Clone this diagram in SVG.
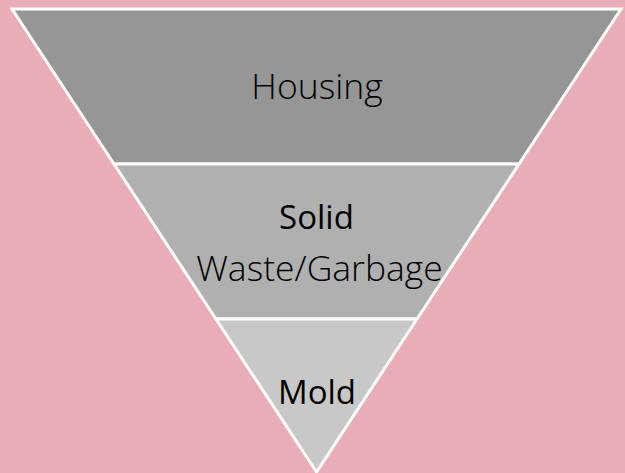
<svg xmlns="http://www.w3.org/2000/svg" width="625" height="473" viewBox="0 0 625 473">
<style>
.band{stroke:#ffffff;stroke-width:3;stroke-linejoin:miter}
.t{font-family:"Open Sans","Liberation Sans",sans-serif;fill:#000000;text-anchor:middle}
.l{font-weight:300;font-size:35.5px}
.r{font-weight:400;font-size:33px}
</style>
<rect width="625" height="473" fill="#e9aeb5"/>
<g id="housing">
<polygon class="band" fill="#969696" points="12,9 621,9 519,164 114,164"/>
<text class="t l" x="317" y="99">Housing</text>
</g>
<g id="solid-waste">
<polygon class="band" fill="#b0b0b0" points="114,164 519,164 417,319 216,319"/>
<text class="t r" x="316.5" y="229">Solid</text>
<text class="t l" x="319.5" y="281">Waste/Garbage</text>
</g>
<g id="mold">
<polygon class="band" fill="#c8c8c8" points="216,319 417,319 316.5,472"/>
<text class="t r" x="317" y="404">Mold</text>
</g>
<g id="connectors"></g>
</svg>
